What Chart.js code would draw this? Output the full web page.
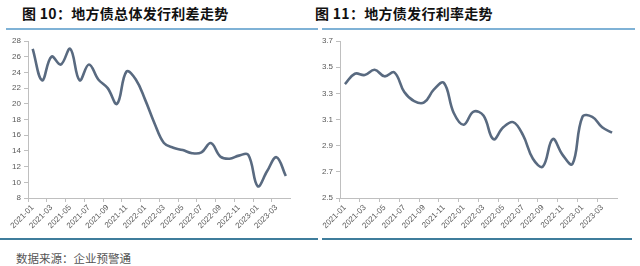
<!DOCTYPE html>
<html><head><meta charset="utf-8">
<script src="https://cdn.jsdelivr.net/npm/chart.js@4.4.1/dist/chart.umd.min.js"></script>
<style>
html,body{margin:0;padding:0;background:#fff;width:640px;height:266px;overflow:hidden;position:relative;font-family:"Noto Sans CJK SC",sans-serif;}
.title{position:absolute;top:3px;font-size:14px;font-weight:bold;color:#111;white-space:nowrap;letter-spacing:0.3px;}
.hl{position:absolute;height:2px;}
.src{position:absolute;left:16px;top:250px;font-size:11.5px;color:#555;white-space:nowrap;}
canvas{position:absolute;}
</style></head><body>
<div class="title" style="left:22px">图 10：地方债总体发行利差走势</div>
<div class="title" style="left:315px">图 11：地方债发行利率走势</div>
<div class="hl" style="left:6px;width:312px;top:28px;background:#7fb2d6"></div>
<div class="hl" style="left:322px;width:313px;top:28px;background:#7fb2d6"></div>
<div class="hl" style="left:0px;width:318px;top:238px;background:#3f7d9c"></div>
<div class="hl" style="left:322px;width:310px;top:238px;background:#3f7d9c"></div>
<div class="src">数据来源：企业预警通</div>
<div style="position:absolute;left:0;top:30px;width:300px;height:208px"><canvas id="c1"></canvas></div>
<div style="position:absolute;left:310px;top:30px;width:320px;height:208px"><canvas id="c2"></canvas></div>
<script>
const months = ["2021-01","2021-02","2021-03","2021-04","2021-05","2021-06","2021-07","2021-08","2021-09","2021-10","2021-11","2021-12",
"2022-01","2022-02","2022-03","2022-04","2022-05","2022-06","2022-07","2022-08","2022-09","2022-10","2022-11","2022-12",
"2023-01","2023-02","2023-03","2023-04"];
const spread = [27.0,23.0,26.0,25.0,27.0,23.0,25.0,23.1,22.0,20.0,24.1,23.1,20.5,17.5,15.0,14.4,14.1,13.7,13.8,15.0,13.3,13.0,13.4,13.5,9.5,11.4,13.2,10.8];
const rate = [3.37,3.45,3.44,3.48,3.43,3.46,3.31,3.24,3.23,3.33,3.38,3.15,3.06,3.16,3.13,2.95,3.04,3.08,2.98,2.80,2.74,2.95,2.83,2.76,3.12,3.12,3.04,3.00];
const spreadAxis = {min:8, max:28, step:2};
const rateAxis = {min:2.5, max:3.7, step:0.2};

function makeChart(id, data, ax, yw, padR, decimals){
  new Chart(document.getElementById(id), {
    type:'line',
    data:{labels:months, datasets:[{data:data, borderColor:'#596a80', borderWidth:2.6, pointRadius:0, tension:0.4, fill:false}]},
    options:{
      responsive:true, maintainAspectRatio:false, animation:false,
      layout:{padding:{top:11, right:padR, left:0, bottom:0}},
      plugins:{legend:{display:false}, tooltip:{enabled:false}},
      scales:{
        x:{type:'category', offset:true,
          grid:{offset:true, drawOnChartArea:false, drawTicks:true, tickLength:4,
            tickColor:(c)=> (c.index%2===0 ? '#bfbfbf' : 'rgba(0,0,0,0)')},
          border:{color:'#bfbfbf', width:1},
          ticks:{autoSkip:false, maxRotation:45, minRotation:45, color:'#595959', font:{size:8, family:'"Liberation Sans", Arial, sans-serif'}, padding:1,
            callback:function(v,i){ return i%2===0 ? months[i] : ''; }},
          afterFit:(s)=>{ s.height = 40; }
        },
        y:{min:ax.min, max:ax.max,
          grid:{drawOnChartArea:false, drawTicks:true, tickLength:4, color:'#bfbfbf'},
          border:{color:'#bfbfbf', width:1},
          ticks:{stepSize:ax.step, color:'#595959', font:{size:8, family:'"Liberation Sans", Arial, sans-serif'}, padding:3,
            callback:(v)=> Number(v).toFixed(decimals)},
          afterFit:(s)=>{ s.width = yw; }
        }
      }
    }
  });
}
makeChart('c1', spread, spreadAxis, 28, 9.5, 0);
makeChart('c2', rate, rateAxis, 30, 13, 1);
</script>
</body></html>
